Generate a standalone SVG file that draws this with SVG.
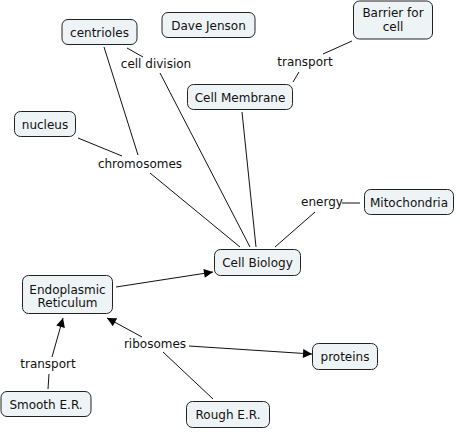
<svg xmlns="http://www.w3.org/2000/svg" width="460" height="432" viewBox="0 0 460 432">
<defs>
<marker id="arr" viewBox="0 0 10 10" refX="10" refY="5" markerWidth="10" markerHeight="9" markerUnits="userSpaceOnUse" orient="auto">
<path d="M0,0 L10,5 L0,10 z" fill="#000"/>
</marker>
<style>
.n rect{fill:#eef3f5;stroke:#222;stroke-width:1}
text{font-family:"DejaVu Sans",Verdana,sans-serif;font-size:12px;fill:#111;text-anchor:middle}
.c line{stroke:#111;stroke-width:1}
.a{marker-end:url(#arr)}
</style>
</defs>
<rect width="460" height="432" fill="#fff"/>
<g class="c" id="connectors">
<line x1="104" y1="47" x2="138" y2="155"/>
<line x1="78" y1="138" x2="122" y2="156"/>
<line x1="150" y1="173" x2="240" y2="247"/>
<line x1="127" y1="48" x2="143" y2="57"/>
<line x1="160" y1="73" x2="250" y2="247"/>
<line x1="242" y1="112" x2="256" y2="247"/>
<line x1="352" y1="41" x2="323" y2="54"/>
<line x1="299" y1="72" x2="293" y2="82"/>
<line x1="315" y1="212" x2="275" y2="247"/>
<line x1="342" y1="203" x2="360" y2="203"/>
<line class="a" x1="116" y1="287" x2="213" y2="272"/>
<line x1="48" y1="389" x2="49" y2="374"/>
<line class="a" x1="52" y1="357" x2="63" y2="318"/>
<line x1="213" y1="399" x2="163" y2="352"/>
<line class="a" x1="142" y1="337" x2="107" y2="318"/>
<line class="a" x1="189" y1="346" x2="312" y2="354"/>
</g>
<g id="lbl-celldivision"><text x="156" y="68">cell division</text></g>
<g id="lbl-transport1"><text x="305" y="66">transport</text></g>
<g id="lbl-chromosomes"><text x="140" y="168">chromosomes</text></g>
<g id="lbl-energy"><text x="322" y="206">energy</text></g>
<g id="lbl-transport2"><text x="48" y="368">transport</text></g>
<g id="lbl-ribosomes"><text x="155" y="348">ribosomes</text></g>
<g class="n" id="centrioles"><rect x="62" y="19.5" width="75" height="25" rx="6"/><text x="99.5" y="36.5">centrioles</text></g>
<g class="n" id="davejenson"><rect x="162" y="12.5" width="93" height="25" rx="6"/><text x="208.5" y="29.5">Dave Jenson</text></g>
<g class="n" id="barrier"><rect x="353.5" y="1" width="79" height="38" rx="6"/><text x="393" y="17">Barrier for</text><text x="393" y="31">cell</text></g>
<g class="n" id="cellmembrane"><rect x="187.5" y="84.5" width="105" height="25" rx="6"/><text x="240" y="101.5">Cell Membrane</text></g>
<g class="n" id="nucleus"><rect x="14.5" y="111.5" width="61" height="25" rx="6"/><text x="45" y="128.5">nucleus</text></g>
<g class="n" id="mitochondria"><rect x="364.5" y="189.5" width="89" height="25" rx="6"/><text x="409" y="206.5">Mitochondria</text></g>
<g class="n" id="cellbiology"><rect x="214.5" y="249.5" width="86" height="26" rx="6"/><text x="257.5" y="267">Cell Biology</text></g>
<g class="n" id="er"><rect x="22.5" y="275.5" width="90" height="38" rx="6"/><text x="67.5" y="294">Endoplasmic</text><text x="67.5" y="307">Reticulum</text></g>
<g class="n" id="smooth"><rect x="1" y="391.5" width="90" height="25" rx="6"/><text x="46" y="408.5">Smooth E.R.</text></g>
<g class="n" id="rough"><rect x="186.5" y="401.5" width="83" height="26" rx="6"/><text x="228" y="419">Rough E.R.</text></g>
<g class="n" id="proteins"><rect x="312.5" y="343.5" width="65" height="26" rx="6"/><text x="345" y="361">proteins</text></g>
</svg>
